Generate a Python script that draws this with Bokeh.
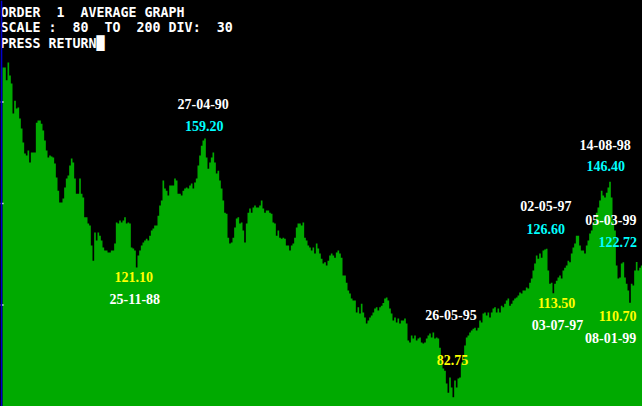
import numpy as np
from bokeh.plotting import figure
from bokeh.models import Span
from bokeh.core.properties import value
from bokeh.embed import file_html
from bokeh.resources import INLINE

# ---------------- data ----------------
# double spaces are written as "space + no-break space" so SVG keeps them
HEADER_LINES = ["ORDER \u00a01 \u00a0AVERAGE GRAPH",
                "SCALE : \u00a080 \u00a0TO \u00a0200 DIV: \u00a030",
                "PRESS RETURN\u2588"]
SCALE_MIN, SCALE_MAX, SCALE_DIV = 80, 200, 30

average = [
    # 1986 - 1990
    180.2, 180.2, 176.4, 181.7, 177.8, 175.5, 166.6, 170.4, 168.1, 168.4,
    165.1, 162.2, 158.0, 154.8, 154.2, 155.7, 152.1, 155.1, 155.1, 155.1,
    163.9, 164.5, 164.5, 163.6, 161.6, 158.6, 155.7, 153.6, 154.2, 153.9,
    153.6, 151.8, 147.7, 143.8, 140.3, 140.3, 141.5, 144.7, 147.4, 148.3,
    151.2, 153.3, 152.1, 147.4, 142.9, 142.9, 147.4, 142.9, 141.8, 135.9,
    135.9, 134.1, 133.5, 127.6, 123.1, 131.4, 129.1, 131.4, 130.5, 129.1,
    127.0, 126.1, 126.1, 125.5, 125.5, 126.1, 126.1, 128.2, 134.4, 134.1,
    135.0, 134.4, 135.0, 135.9, 134.1, 134.4, 134.1, 127.0, 126.7, 126.1,
    121.1, 124.6, 126.1, 127.6, 128.5, 129.1, 129.6, 129.1, 130.5, 132.0,
    132.6, 133.5, 133.5, 136.4, 139.4, 140.9, 146.8, 144.4, 143.8, 142.4,
    145.3, 145.3, 145.3, 147.4, 146.8, 142.9, 142.9, 142.4, 143.8, 144.4,
    144.7, 144.4, 145.3, 145.9, 144.4, 146.2, 147.4, 151.2, 154.2, 157.1,
    # 1990 - 1994
    158.6, 159.2, 153.6, 150.3, 152.1, 153.6, 155.1, 152.1, 148.9, 149.7,
    146.8, 144.4, 140.9, 137.3, 137.0, 129.9, 128.2, 128.5, 129.9, 132.9,
    135.6, 135.9, 134.1, 134.4, 132.0, 128.5, 134.1, 137.3, 138.5, 137.3,
    138.8, 139.4, 138.8, 138.8, 139.4, 140.9, 138.5, 137.3, 137.9, 137.9,
    137.3, 137.0, 134.4, 134.1, 130.5, 132.0, 129.9, 129.6, 129.9, 129.6,
    127.6, 127.6, 126.1, 127.6, 128.2, 129.9, 132.9, 134.1, 134.1, 133.5,
    134.4, 129.9, 129.1, 127.6, 127.0, 126.1, 127.0, 125.2, 128.2, 126.7,
    125.2, 123.7, 122.3, 122.6, 121.7, 123.1, 124.6, 125.2, 124.6, 124.0,
    125.5, 126.1, 125.2, 124.0, 118.7, 118.7, 116.6, 114.3, 113.4, 111.9,
    111.3, 111.3, 107.8, 109.3, 107.5, 110.4, 107.8, 106.3, 104.5, 105.4,
    106.3, 106.9, 107.8, 109.0, 109.3, 108.4, 109.3, 109.8, 110.6, 111.9,
    112.2, 111.3, 109.0, 107.5, 105.4, 106.3, 104.8, 106.0, 104.5, 105.4,
    # 1994 - 1999
    105.4, 106.0, 104.5, 99.5, 98.9, 101.0, 100.1, 101.0, 99.5, 100.1,
    100.4, 98.9, 98.6, 98.9, 100.1, 101.0, 101.6, 100.4, 101.9, 100.1,
    100.4, 100.1, 97.4, 92.7, 91.2, 90.6, 86.8, 84.1, 88.6, 85.6,
    82.75, 87.7, 85.6, 88.3, 88.6, 92.7, 93.6, 98.0, 100.4, 101.0,
    101.9, 102.5, 103.0, 103.3, 102.5, 103.3, 105.4, 104.8, 107.5, 107.8,
    106.9, 107.8, 106.3, 107.8, 109.0, 109.3, 107.8, 109.0, 107.8, 109.8,
    109.3, 110.4, 111.3, 111.9, 109.8, 110.4, 111.3, 111.9, 112.2, 112.8,
    113.7, 113.4, 114.3, 114.3, 115.2, 114.9, 116.6, 117.8, 120.2, 122.3,
    124.6, 123.7, 125.2, 124.0, 126.1, 126.4, 126.6, 120.2, 116.3, 116.6,
    113.5, 116.3, 117.2, 118.1, 118.7, 117.8, 120.2, 121.0, 121.7, 123.1,
    122.6, 125.2, 127.0, 128.2, 130.5, 130.5, 127.6, 126.1, 126.1, 125.2,
    127.6, 129.1, 131.1, 132.0, 134.1, 135.0, 137.3, 138.8, 140.9, 143.8,
    142.4, 141.8, 143.2, 144.7, 146.4, 141.8, 135.0, 132.0, 121.7, 117.8,
    118.1, 122.3, 122.6, 118.1, 116.3, 114.3, 110.7, 116.3, 115.8, 120.2,
    122.72, 120.2, 121.0, 121.7, 118.1,
]

label_dates = ["27-04-90", "25-11-88", "26-05-95", "02-05-97",
               "03-07-97", "14-08-98", "08-01-99", "05-03-99"]
label_values = [159.20, 121.10, 82.75, 126.60, 113.50, 146.40, 110.70, 122.72]
label_kinds = ["peak", "trough", "trough", "peak", "trough", "peak", "trough", "peak"]

# ---------------- layout / style ----------------
W, H = 642, 406
GREEN = "#00AA00"
WHITE = "#FFFFFF"
CYAN = "#00FFFF"
YELLOW = "#FFFF00"
AXIS_BLUE = "#0000CC"

# pixel offsets (dx_date, dy_date, dx_value, dy_value) from the marked point, +dy = downwards
label_offsets = [
    (-1, -35, 0, -13),
    (-1, 32, -2, 10),
    (-1.5, -82, 0, -37),
    (0, -42.5, 0, -20),
    (5, 31.5, 4, 10),
    (-4, -37, -3.5, -15.5),
    (-18.5, 35, -11.5, 13.5),
    (-25, -41.5, -18, -19.5),
]

n = len(average)
idx = np.arange(n)
vals = np.array(average, dtype=float)

step_px = 5.0 / 3.0
x_start = -2.0 / step_px
x_end = x_start + W / step_px
UX = (x_end - x_start) / W          # data units per pixel (x)
UY = (SCALE_MAX - SCALE_MIN) / H    # data units per pixel (y)

p = figure(width=W, height=H, x_range=(x_start, x_end), y_range=(SCALE_MIN, SCALE_MAX),
           toolbar_location=None, output_backend="svg", min_border=0,
           x_axis_location=None, y_axis_location=None,
           background_fill_color="black", border_fill_color="black",
           outline_line_color=None)
p.grid.visible = False

p.varea_step(x=idx, y1=np.full(n, SCALE_MIN, dtype=float), y2=vals,
             step_mode="after", fill_color=GREEN, fill_alpha=1.0)

# left axis line with ticks
p.add_layout(Span(location=x_start + 0.9 * UX, dimension="height",
                  line_color=AXIS_BLUE, line_width=1.8))
ticks = list(range(SCALE_MIN + SCALE_DIV, SCALE_MAX, SCALE_DIV))
p.segment(x0=[x_start] * len(ticks), x1=[x_start + 3 * UX] * len(ticks),
          y0=ticks, y1=ticks, line_color=WHITE, line_width=1.5)

# annotations at extremes
for d, v, kind, (dxd, dyd, dxv, dyv) in zip(label_dates, label_values, label_kinds, label_offsets):
    i = int(np.argmin(np.abs(vals - v)))
    xa, ya = idx[i], vals[i]
    vcol = CYAN if kind == "peak" else YELLOW
    p.text(x=[xa + dxd * UX], y=[ya - dyd * UY], text=[d],
           text_color=WHITE, text_font=value("Liberation Serif"), text_font_style="bold",
           text_font_size="14px", text_align="center", text_baseline="middle")
    p.text(x=[xa + dxv * UX], y=[ya - dyv * UY], text=[f"{v:.2f}"],
           text_color=vcol, text_font=value("Liberation Serif"), text_font_style="bold",
           text_font_size="14px", text_align="center", text_baseline="middle")

# header lines (top-left), baselines in pixels from top
header_baselines = [11.7, 27.3, 42.7]
for line, b in zip(HEADER_LINES, header_baselines):
    p.text(x=[x_start], y=[SCALE_MAX - b * UY], text=[line],
           text_color=WHITE, text_font=value("DejaVu Sans Mono"), text_font_style="bold",
           text_font_size="13.3px", text_align="left", text_baseline="alphabetic")

html = file_html(p, INLINE)
html = html.replace("<head>", "<head><style>html,body{margin:0;padding:0;background:#000000;overflow:hidden;}</style>", 1)
open("out.html", "w").write(html)
